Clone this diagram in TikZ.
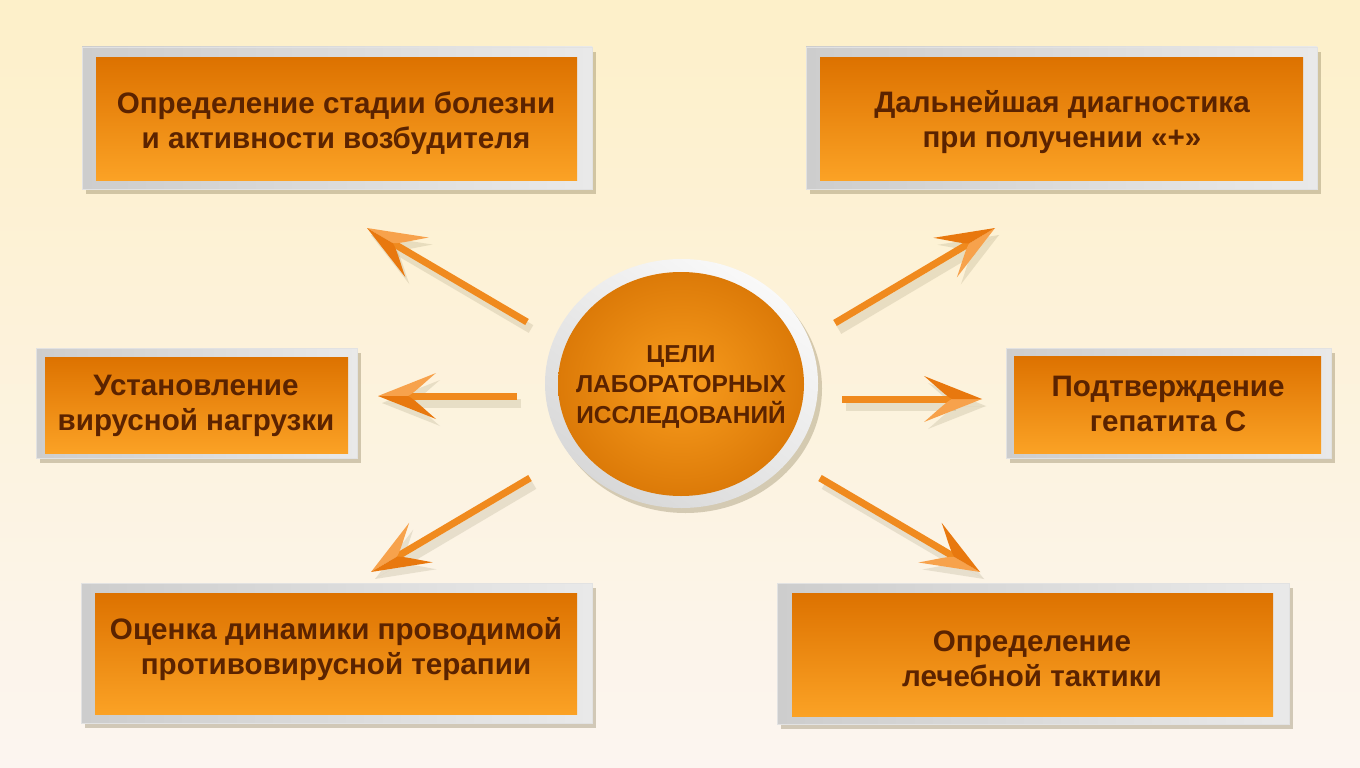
\documentclass[tikz,border=0pt]{standalone}
\usepackage{fontspec}
\setmainfont{Liberation Sans}
\usetikzlibrary{decorations.markings,shadows,shapes.geometric}
\definecolor{bgtop}{HTML}{FDF0C9}
\definecolor{bgmid}{HTML}{FFF8C5}
\definecolor{bgbot}{HTML}{FCF5F0}
\definecolor{orTop}{HTML}{DD7200}
\definecolor{orBot}{HTML}{FBA225}
\definecolor{frL}{HTML}{CDCDCD}
\definecolor{frM}{HTML}{F6F6F6}
\definecolor{frR}{HTML}{E9E9E9}
\definecolor{frD}{HTML}{E2E2E2}
\definecolor{txt}{HTML}{5B2300}
\definecolor{arrowL}{HTML}{F7A24C}
\definecolor{arrowD}{HTML}{E8780E}
\definecolor{arrowS}{HTML}{F08A1E}
\definecolor{shadowc}{HTML}{6E6038}
\definecolor{ringA}{HTML}{F9F9F9}
\definecolor{ringB}{HTML}{D8D8D8}
\definecolor{discIn}{HTML}{F99D1E}
\definecolor{discOut}{HTML}{DC7A08}
\newcommand\arrowheadshape[2]{%
  \fill[#1] (0,0) -- (-58,23) .. controls (-45,12) and (-36,3) .. (-30,0) -- cycle;
  \fill[#2] (0,0) -- (-58,-23) .. controls (-45,-12) and (-36,-3) .. (-30,0) -- cycle;}
\tikzset{
  boxframe/.style={rectangle, inner sep=0pt, left color=frL, middle color=frM, right color=frR,
    draw=frD, line width=0.6pt,
    drop shadow={shadow xshift=4pt, shadow yshift=-5pt, opacity=0.3, fill=shadowc}},
  goalbox/.style={rectangle, inner sep=0pt, top color=orTop, bottom color=orBot},
  goaltext/.style={text=txt, align=center, inner sep=0pt, font=\bfseries\fontsize{29.6}{35}\selectfont},
  shaftline/.style={draw=#1, line width=7pt, shorten >=30pt},
  headdeco/.style 2 args={decorate, decoration={markings,
    mark=at position 1 with {\arrowheadshape{#1}{#2}}}},
}
\newcommand\goalarrow[2]{%
  \begin{scope}[transform canvas={shift={(4,7)}}, opacity=0.14]
    \draw[shaftline=shadowc, line width=9pt] (#1) -- (#2);
    \path[headdeco={shadowc}{shadowc}] (#1) -- (#2);
  \end{scope}
  \draw[shaftline=arrowS] (#1) -- (#2);
  \path[headdeco={arrowL}{arrowD}] (#1) -- (#2);}
\begin{document}
\begin{tikzpicture}[x=1pt,y=-1pt]
\useasboundingbox (0,0) rectangle (1360,768);
\shade[top color=bgtop, middle color=bgmid, bottom color=bgbot] (0,0) rectangle (1360,768);

% frames
\node[boxframe, minimum width=510pt, minimum height=142pt] (f1) at (337,118) {};
\node[boxframe, minimum width=511pt, minimum height=142pt] (f2) at (1061.5,118) {};
\node[boxframe, minimum width=321pt, minimum height=110pt] (f3) at (196.5,403) {};
\node[boxframe, minimum width=325pt, minimum height=110pt] (f4) at (1168.5,403) {};
\node[boxframe, minimum width=511pt, minimum height=140pt] (f5) at (336.5,653) {};
\node[boxframe, minimum width=512pt, minimum height=141pt] (f6) at (1033,653.5) {};

% goal boxes
\node[goalbox, minimum width=481pt, minimum height=122pt] (b1) at (336.5,119) {};
\node[goalbox, minimum width=483pt, minimum height=122pt] (b2) at (1061.5,119) {};
\node[goalbox, minimum width=303pt, minimum height=96pt] (b3) at (196.5,405) {};
\node[goalbox, minimum width=307pt, minimum height=97pt] (b4) at (1167.5,404.5) {};
\node[goalbox, minimum width=482pt, minimum height=121pt] (b5) at (336,654) {};
\node[goalbox, minimum width=481pt, minimum height=123pt] (b6) at (1032.5,654.5) {};

\node[goaltext] (t1) at (336,123) {Определение стадии болезни\\и активности возбудителя};
\node[goaltext] (t2) at (1062,122.5) {Дальнейшая диагностика\\при получении «+»};
\node[goaltext] (t3) at (196,406) {Установление\\вирусной нагрузки};
\node[goaltext] (t4) at (1168,404) {Подтверждение\\гепатита С};
\node[goaltext] (t5) at (336,649) {Оценка динамики проводимой\\противовирусной терапии};
\node[goaltext] (t6) at (1032,658.5) {Определение\\лечебной тактики};

% centre
\node[ellipse, inner sep=0pt, minimum width=273pt, minimum height=249pt,
  top color=ringA, bottom color=ringB, shading angle=-35,
  drop shadow={shadow xshift=4pt, shadow yshift=-5pt, opacity=0.28, fill=shadowc}] (ring) at (681.5,383.5) {};
\node[ellipse, inner sep=0pt, minimum width=246pt, minimum height=224pt,
  shading=radial, inner color=discIn, outer color=discOut] (c) at (681,384) {};
\node[text=txt, align=center, inner sep=0pt, font=\bfseries\fontsize{24.5}{30.5}\selectfont] (ct) at (681,387)
  {ЦЕЛИ\\ЛАБОРАТОРНЫХ\\ИССЛЕДОВАНИЙ};

% arrow end points
\coordinate (a1s) at (527,322); \coordinate (a1e) at (367,228);
\coordinate (a2s) at (835,323); \coordinate (a2e) at (995,228);
\coordinate (a3s) at (517,396); \coordinate (a3e) at (378,396);
\coordinate (a4s) at (842,399); \coordinate (a4e) at (982,399);
\coordinate (a5s) at (530,478); \coordinate (a5e) at (371,572);
\coordinate (a6s) at (820,478); \coordinate (a6e) at (980,572);

\goalarrow{a1s}{a1e}
\goalarrow{a2s}{a2e}
\goalarrow{a3s}{a3e}
\goalarrow{a4s}{a4e}
\goalarrow{a5s}{a5e}
\goalarrow{a6s}{a6e}
\end{tikzpicture}
\end{document}
